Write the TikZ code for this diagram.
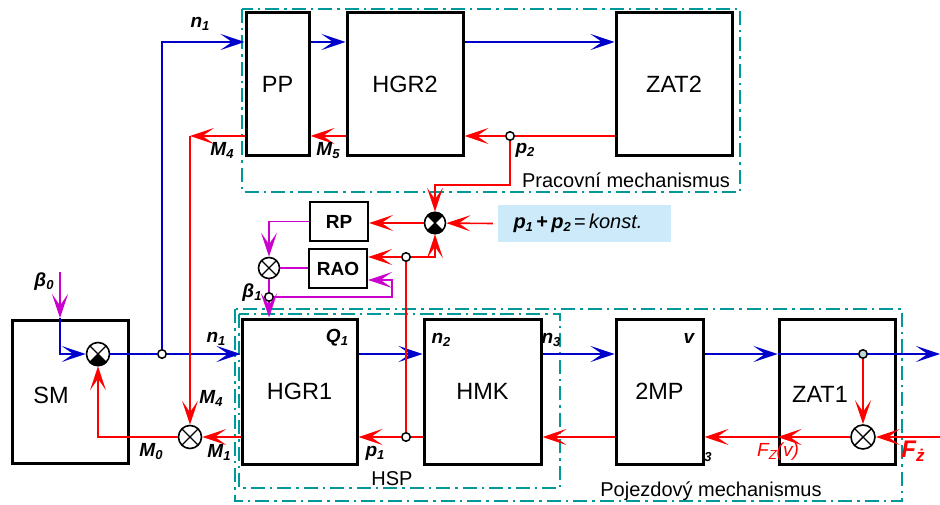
\documentclass[tikz,border=0pt]{standalone}
\usepackage{fontspec}
\setmainfont{Liberation Sans}
\usetikzlibrary{arrows.meta,calc}
\definecolor{cblue}{RGB}{0,0,204}
\definecolor{cred}{RGB}{255,0,0}
\definecolor{cmag}{RGB}{204,0,204}
\definecolor{cteal}{RGB}{0,153,153}
\definecolor{klight}{RGB}{204,234,250}
\definecolor{dotfill}{RGB}{190,215,220}
\newcommand{\lb}[2]{{\bfseries\itshape #1}\raisebox{-3pt}{\fontsize{13}{13}\selectfont\bfseries\itshape #2}}
\newcommand{\crossin}[1]{\draw[line width=1.4pt] ($(#1.center)!0.93!(#1.45)$) -- ($(#1.center)!0.93!(#1.225)$) ($(#1.center)!0.93!(#1.135)$) -- ($(#1.center)!0.93!(#1.-45)$);}
\newcommand{\quadfill}[2]{\fill (#1.center) \foreach \a in {#2} { -- (#1.\a)} -- cycle;}
\begin{document}
\begin{tikzpicture}[x=1pt,y=-1pt,
  >={Stealth[length=24pt,width=16pt,inset=11.5pt]},
  blk/.style={draw,line width=3pt,inner sep=0pt,font=\fontsize{23.5}{26}\selectfont},
  smallblk/.style={draw,line width=2.2pt,inner sep=0pt,font=\fontsize{19}{22}\selectfont\bfseries},
  sumn/.style={circle,draw,line width=1.6pt,fill=white,inner sep=0pt},
  dotn/.style={circle,draw,line width=1.5pt,fill=white,inner sep=0pt,minimum size=8.5pt},
  bl/.style={cblue,line width=1.6pt},
  rd/.style={cred,line width=1.6pt},
  mg/.style={cmag,line width=1.6pt},
  frame/.style={cteal,line width=2pt,dash pattern=on 14pt off 5pt on 2.5pt off 5pt},
  lab/.style={inner sep=0pt,font=\fontsize{19}{22}\selectfont},
]
\useasboundingbox (0,0) rectangle (940,505);

% level coordinates
\coordinate (LT) at (0,42);
\coordinate (LR) at (0,136);
\coordinate (LRR) at (0,185);
\coordinate (LB) at (0,354);
\coordinate (LBR) at (0,437);
\coordinate (b0in) at (60,272);
\coordinate (b0c) at (60,318);
\coordinate (mR) at (392,280);
\coordinate (bOut) at (940,354);
\coordinate (fIn) at (940,437);

% frames
\draw[frame] (242,9) rectangle (740,192);
\draw[frame] (235,309) rectangle (902,501);
\draw[frame] (239,314) rectangle (560,488);

% blocks
\node[blk,minimum width=63pt,minimum height=143pt] (PP) at (277.5,84.5) {PP};
\node[blk,minimum width=116pt,minimum height=143pt] (HGR2) at (405,84.5) {HGR2};
\node[blk,minimum width=116pt,minimum height=143pt] (ZAT2) at (674,84.5) {ZAT2};
\node[smallblk,minimum width=58pt,minimum height=39pt] (RP) at (339,221.5) {RP};
\node[smallblk,minimum width=58pt,minimum height=39pt] (RAO) at (338,268.5) {RAO};
\node[blk,minimum width=116pt,minimum height=143pt] (SM) at (70,391.5) {};
\node[blk,minimum width=115pt,minimum height=145pt] (HGR1) at (299.5,391.5) {HGR1};
\node[blk,minimum width=117pt,minimum height=145pt] (HMK) at (482.5,391.5) {HMK};
\node[blk,minimum width=87pt,minimum height=145pt] (mp) at (659.5,391.5) {2MP};
\node[blk,minimum width=116pt,minimum height=145pt] (ZAT1) at (837,391.5) {};
\node[inner sep=0pt,font=\fontsize{23.5}{26}\selectfont] (tSM) at (51,395) {SM};
\node[inner sep=0pt,font=\fontsize{23.5}{26}\selectfont] (tZAT1) at (820,394) {ZAT1};

% konst box
\node[fill=klight,minimum width=173pt,minimum height=37pt,inner sep=0pt] (kbox) at (584.5,223.5) {};
\node[lab] (ktext) at (578,223) {\fontsize{20}{22}\selectfont\lb{p}{1}\,\textbf{+}\,\lb{p}{2}\,=\,\textit{konst.}};

% summing junctions
\node[sumn,minimum size=21pt] (sumT) at (435,223) {};
\node[sumn,minimum size=21pt] (sumM) at (269,268) {};
\node[sumn,minimum size=23pt] (sumSM) at (98,354) {};
\node[sumn,minimum size=23pt] (sumM0) at (190,437) {};
\node[sumn,minimum size=24pt] (sumF) at (863,437) {};
\quadfill{sumT}{45,55,...,135}
\quadfill{sumT}{-135,-125,...,-45}
\quadfill{sumSM}{-135,-125,...,-45}
\crossin{sumT}
\crossin{sumM}
\crossin{sumSM}
\crossin{sumM0}
\crossin{sumF}

% small dots
\node[dotn] (dn1) at (162,354) {};
\node[dotn] (dp2) at (510,136) {};
\node[dotn] (dq) at (406,257) {};
\node[dotn] (db1) at (269,297) {};
\node[dotn] (dp1) at (406,437) {};
\node[dotn,fill=dotfill] (dv) at (863,354) {};

% blue connectors
\draw[bl,->] (b0c) -- (b0c |- sumSM) -- (sumSM);
\draw[bl] (sumSM) -- (dn1);
\draw[bl,->] (dn1) -- (HGR1.west |- LB);
\draw[bl,->] (dn1) -- (dn1 |- LT) -- (PP.west |- LT);
\draw[bl,->] (PP.east |- LT) -- (HGR2.west |- LT);
\draw[bl,->] (HGR2.east |- LT) -- (ZAT2.west |- LT);
\draw[bl,->] (HGR1.east |- LB) -- (HMK.west |- LB);
\draw[bl,->] (HMK.east |- LB) -- (mp.west |- LB);
\draw[bl,->] (mp.east |- LB) -- (ZAT1.west |- LB);
\draw[bl] (ZAT1.west |- LB) -- (dv);
\draw[bl,->] (dv) -- (bOut);

% red connectors
\draw[rd] (ZAT2.west |- LR) -- (dp2);
\draw[rd,->] (dp2) -- (HGR2.east |- LR);
\draw[rd,->] (HGR2.west |- LR) -- (PP.east |- LR);
\draw[rd,->] (PP.west |- LR) -- (sumM0 |- LR);
\draw[rd,->] (sumM0 |- LR) -- (sumM0);
\draw[rd,->] (dp2) -- (dp2 |- LRR) -- (sumT |- LRR) -- (sumT);
\draw[rd,->] ([xshift=-5pt]kbox.west) -- (sumT);
\draw[rd,->] (sumT) -- (RP.east |- sumT);
\draw[rd,->] (dq) -- (RAO.east |- dq);
\draw[rd,->] (dq) -- (sumT |- dq) -- (sumT);
\draw[rd] (dq) -- (dp1);
\draw[rd,->] (dv) -- (sumF);
\draw[rd,->] (fIn) -- (sumF);
\draw[rd,->] (sumF) -- (ZAT1.west |- LBR);
\draw[rd,->] (ZAT1.west |- LBR) -- (mp.east |- LBR);
\draw[rd,->] (mp.west |- LBR) -- (HMK.east |- LBR);
\draw[rd] (HMK.west |- LBR) -- (dp1);
\draw[rd,->] (dp1) -- (HGR1.east |- LBR);
\draw[rd,->] (HGR1.west |- LBR) -- (sumM0);
\draw[rd,->] (sumM0) -- (sumSM |- sumM0) -- (sumSM);

% magenta connectors
\draw[mg,->] (b0in) -- (b0c);
\draw[mg,->] (RP.west) -- (sumM |- RP.west) -- (sumM);
\draw[mg] (sumM) -- (RAO.west |- sumM);
\draw[mg] (sumM) -- (db1);
\draw[mg,->] (db1) -- (HGR1.north -| db1);
\draw[mg,->] (db1) -- (db1 -| mR) -- (mR) -- (RAO.east |- mR);

% labels
\node[lab] (ln1a) at (200,24) {\lb{n}{1}};
\node[lab] (lM4a) at (222,150) {\lb{M}{4}};
\node[lab] (lM5) at (328,151) {\lb{M}{5}};
\node[lab] (lp2) at (525,150) {\lb{p}{2}};
\node[lab] (lprac) at (626,180) {\fontsize{20}{22}\selectfont Pracovní mechanismus};
\node[lab] (lb0) at (44,282) {\lb{β}{0}};
\node[lab] (lb1) at (252,293) {\lb{β}{1}};
\node[lab] (ln1b) at (216,339) {\lb{n}{1}};
\node[lab] (lQ1) at (337,338) {\lb{Q}{1}};
\node[lab] (ln2) at (441,340) {\lb{n}{2}};
\node[lab] (ln3) at (551,340) {\lb{n}{3}};
\node[lab] (lv) at (689,338) {\bfseries\itshape v};
\node[lab] (lM4b) at (211,398) {\lb{M}{4}};
\node[lab] (lM0) at (151,452) {\lb{M}{0}};
\node[lab] (lM1) at (219,452) {\lb{M}{1}};
\node[lab] (lp1) at (375,453) {\lb{p}{1}};
\node[lab] (lHSP) at (392,479) {\fontsize{20}{22}\selectfont HSP};
\node[lab] (lpoj) at (711,491) {\fontsize{20}{22}\selectfont Pojezdový mechanismus};
\node[lab] (l3) at (708,457) {\fontsize{13}{13}\selectfont\bfseries\itshape 3};
\node[lab,text=cred] (lFZ) at (778,452) {\itshape F\raisebox{-3pt}{\fontsize{13}{13}\selectfont\itshape Z}(v)};
\node[lab,text=cred] (lFz) at (913,451) {{\fontsize{24}{26}\selectfont\bfseries\itshape F}\raisebox{-4pt}{\fontsize{17}{17}\selectfont\bfseries\itshape ż}};
\end{tikzpicture}
\end{document}
